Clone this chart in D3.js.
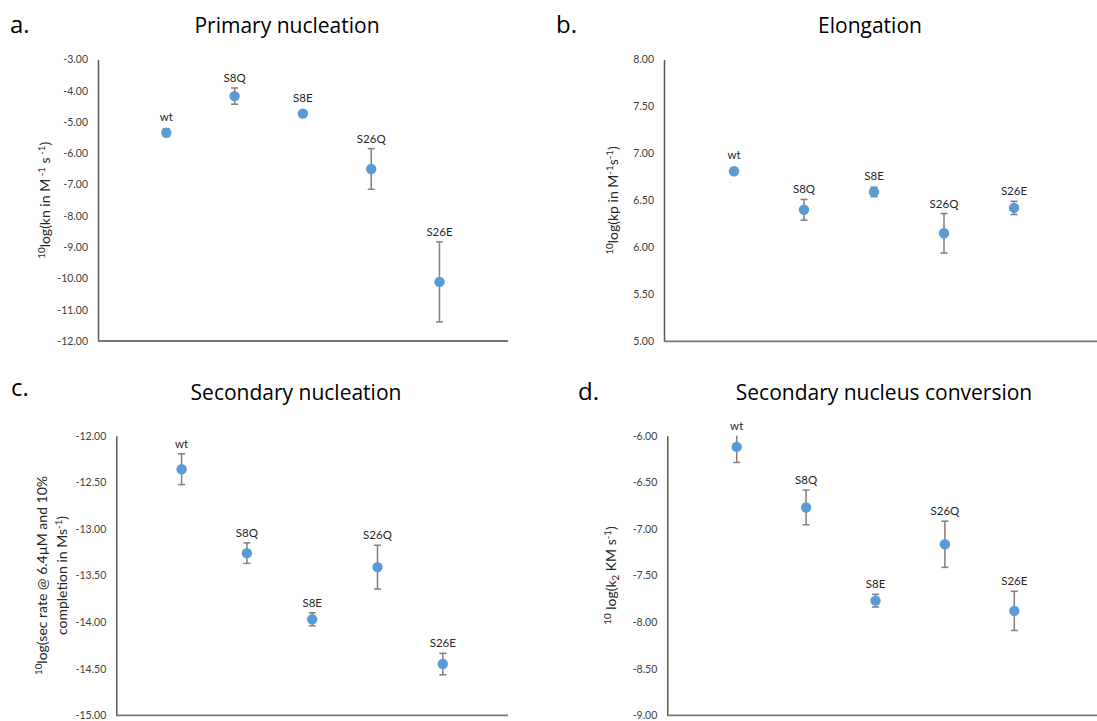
<!DOCTYPE html>
<html lang="en">
<head>
    <meta charset="UTF-8">
    <title>Rate constants of the variants</title>
    <script src="https://cdn.jsdelivr.net/npm/d3@7/dist/d3.min.js"></script>
    <style>
        body{
            margin: 0;
            background: white;
            font-family: "Open Sans", sans-serif;
        }
        .yAxis{
            font-family: Lato, sans-serif;
            font-size: 10.5px;
        }
        .yAxis text{
            fill: #404040;
        }
        .yAxis path{
            stroke: #595959;
            stroke-width: 1.5;
        }
        .catLabel{
            font-family: Lato, sans-serif;
            font-size: 11.5px;
            fill: #262626;
        }
        .yTitle{
            font-family: Lato, sans-serif;
            fill: #262626;
        }
    </style>
</head>
<body>
<svg id="main" width="1097" height="721"></svg>
<script>
    // variants, same order in every panel
    const categories = ['wt','S8Q','S8E','S26Q','S26E']

    // a. primary nucleation, 10log(kn)
    const primaryValues = [-5.34, -4.17, -4.73, -6.50, -10.11]
    const primaryErrors = [0.12, 0.26, 0.03, 0.65, 1.28]
    const primaryTicks = [-3,-4,-5,-6,-7,-8,-9,-10,-11,-12]

    // b. elongation, 10log(kp)
    const elongationValues = [6.81, 6.40, 6.59, 6.15, 6.42]
    const elongationErrors = [0.03, 0.11, 0.05, 0.21, 0.07]
    const elongationTicks = [5, 5.5, 6, 6.5, 7, 7.5, 8]

    // c. secondary nucleation rate
    const secondaryValues = [-12.36, -13.26, -13.97, -13.41, -14.45]
    const secondaryErrors = [0.165, 0.11, 0.07, 0.235, 0.115]
    const secondaryTicks = [-12, -12.5, -13, -13.5, -14, -14.5, -15]

    // d. secondary nucleus conversion, 10log(k2 KM)
    const conversionValues = [-6.12, -6.77, -7.77, -7.165, -7.88]
    const conversionErrors = [0.167, 0.186, 0.068, 0.248, 0.21]
    const conversionTicks = [-6, -6.5, -7, -7.5, -8, -8.5, -9]

    const svg = d3.select('svg#main')

    const panels = [
        {letter:'a.', title:'Primary nucleation', values:primaryValues, errors:primaryErrors, ticks:primaryTicks,
            left:98, top:59.5, bottom:341, step:68.3, right:508,
            letterX:10, titleX:287, titleY:33,
            yTitle:[[{t:'10',s:'sup'},{t:'log(kn in M'},{t:' -1',s:'sup'},{t:' s'},{t:' -1',s:'sup'},{t:')'}]], yTitleX:50},
        {letter:'b.', title:'Elongation', values:elongationValues, errors:elongationErrors, ticks:elongationTicks,
            left:664, top:59.5, bottom:341.3, step:70, right:1097,
            letterX:556, titleX:870, titleY:33,
            yTitle:[[{t:'10',s:'sup'},{t:'log(kp in M'},{t:'-1',s:'sup'},{t:'s'},{t:'-1',s:'sup'},{t:')'}]], yTitleX:618},
        {letter:'c.', title:'Secondary nucleation', values:secondaryValues, errors:secondaryErrors, ticks:secondaryTicks,
            left:116.3, top:435.7, bottom:715.3, step:65.3, right:508,
            letterX:11, titleX:296, titleY:400,
            yTitle:[[{t:'10',s:'sup'},{t:'log(sec rate @ 6.4\u00b5M and 10%'}],
                    [{t:'completion in Ms'},{t:'-1',s:'sup'},{t:')'}]], yTitleX:47},
        {letter:'d.', title:'Secondary nucleus conversion', values:conversionValues, errors:conversionErrors, ticks:conversionTicks,
            left:667.3, top:435.7, bottom:715.3, step:69.4, right:1097,
            letterX:578, titleX:884, titleY:400,
            yTitle:[[{t:'10',s:'sup'},{t:' log(k'},{t:'2',s:'sub'},{t:' KM s'},{t:'-1',s:'sup'},{t:')'}]], yTitleX:616}
    ]

    // write text with raised / lowered parts using dy shifts
    function richText(textSel, parts, fs){
        let shift = 0
        parts.forEach(p=>{
            const target = p.s==='sup' ? -0.38*fs : p.s==='sub' ? 0.22*fs : 0
            textSel.append('tspan')
                .attr('dy', target-shift)
                .attr('font-size', p.s ? fs*0.7 : fs)
                .text(p.t)
            shift = target
        })
    }

    panels.forEach(drawPanel)

    function drawPanel(p){
        const g = svg.append('g')

        const yScale = d3.scaleLinear()
            .domain(d3.extent(p.ticks))
            .range([p.bottom, p.top])
        const xScale = d3.scaleLinear()
            .domain([0, 6])
            .range([p.left, p.left + 6*p.step])

        // letter and title
        g.append('text')
            .attr('x', p.letterX).attr('y', p.titleY - (p.letter==='c.' ? 4 : 0))
            .attr('font-size', 24).attr('fill', '#000')
            .text(p.letter)
        g.append('text')
            .attr('x', p.titleX).attr('y', p.titleY)
            .attr('text-anchor', 'middle')
            .attr('font-size', 21).attr('fill', '#000')
            .text(p.title)

        // y axis
        const yAxis = d3.axisLeft(yScale)
            .tickValues(p.ticks)
            .tickFormat(d=>d.toFixed(2))
            .tickSize(0)
            .tickPadding(10)
        g.append('g')
            .attr('class', 'yAxis')
            .attr('transform', `translate(${p.left},0)`)
            .call(yAxis)

        // x axis line only
        g.append('line')
            .attr('x1', p.left).attr('x2', p.right)
            .attr('y1', p.bottom).attr('y2', p.bottom)
            .attr('stroke', '#767676').attr('stroke-width', 1.8)

        // y axis title
        const midY = (p.top + p.bottom)/2
        p.yTitle.forEach((line, i)=>{
            const t = g.append('text')
                .attr('class', 'yTitle')
                .attr('transform', `translate(${p.yTitleX + i*20},${midY}) rotate(-90)`)
                .attr('text-anchor', 'middle')
            richText(t, line, 14)
        })

        const rows = categories.map((c, i)=>({
            name: c, x: i+1, v: p.values[i], e: p.errors[i]
        }))

        // error bars, clipped to the axis range
        const [lo, hi] = yScale.domain()
        const clip = v=>Math.max(lo, Math.min(hi, v))
        const bars = g.append('g').selectAll('.err')
            .data(rows).enter().append('g')
            .attr('stroke', '#7f7f7f').attr('stroke-width', 1.5)
        bars.append('line')
            .attr('x1', d=>xScale(d.x)).attr('x2', d=>xScale(d.x))
            .attr('y1', d=>yScale(clip(d.v + d.e))).attr('y2', d=>yScale(clip(d.v - d.e)))
        bars.filter(d=>d.v + d.e <= hi).append('line')
            .attr('x1', d=>xScale(d.x)-3.5).attr('x2', d=>xScale(d.x)+3.5)
            .attr('y1', d=>yScale(d.v + d.e)).attr('y2', d=>yScale(d.v + d.e))
        bars.append('line')
            .attr('x1', d=>xScale(d.x)-3.5).attr('x2', d=>xScale(d.x)+3.5)
            .attr('y1', d=>yScale(d.v - d.e)).attr('y2', d=>yScale(d.v - d.e))

        // points
        g.append('g').selectAll('circle')
            .data(rows).enter().append('circle')
            .attr('cx', d=>xScale(d.x))
            .attr('cy', d=>yScale(d.v))
            .attr('r', 5.2)
            .attr('fill', '#5b9bd5')

        // labels above the point, or above the error bar if that is taller
        g.append('g').selectAll('.catLabel')
            .data(rows).enter().append('text')
            .attr('class', 'catLabel')
            .attr('x', d=>xScale(d.x))
            .attr('y', d=>Math.min(yScale(d.v) - 16, yScale(clip(d.v + d.e)) - 10))
            .attr('dy', '0.35em')
            .attr('text-anchor', 'middle')
            .text(d=>d.name)
    }
</script>
</body>
</html>
